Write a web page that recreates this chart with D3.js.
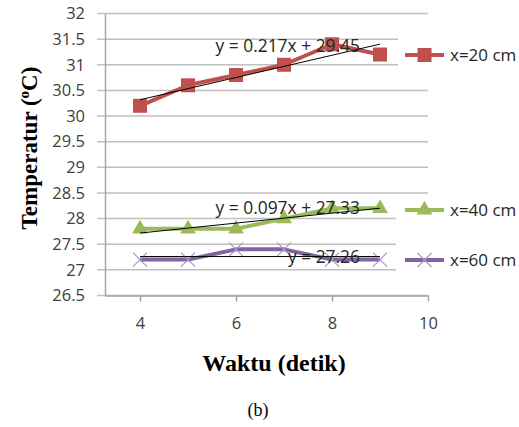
<!DOCTYPE html>
<html><head><meta charset="utf-8">
<script src="https://cdn.jsdelivr.net/npm/d3@7"></script>
<style>body{margin:0;background:#fff}svg{display:block}</style>
</head><body><svg id="c" width="519" height="427"></svg>
<script>
const time = [4,5,6,7,8,9];
const seriesNames = ["x=20 cm","x=40 cm","x=60 cm"];
const t20 = [30.2,30.6,30.8,31.0,31.4,31.2];
const t40 = [27.8,27.8,27.8,28.0,28.2,28.2];
const t60 = [27.2,27.2,27.4,27.4,27.2,27.2];
const slopes = [0.217,0.097,0];
const intercepts = [29.45,27.33,27.26];
const eqLabels = ["y = 0.217x + 29.45","y = 0.097x + 27.33","y = 27.26"];
const yTicks = [26.5,27,27.5,28,28.5,29,29.5,30,30.5,31,31.5,32];
const xTicks = [4,6,8,10];
const colors = ["#C0504D","#9BBB59","#8064A2"];

const svg = d3.select("#c");
const x = d3.scaleLinear().domain([3.27,10]).range([105,428]);
const y = d3.scaleLinear().domain([26.5,32]).range([295.5,13.5]);
const font = "'Open Sans', sans-serif";

svg.append("g").selectAll("line").data(yTicks).join("line")
  .attr("x1",97).attr("x2",428).attr("y1",d=>y(d)).attr("y2",d=>y(d))
  .attr("stroke","#bfbfbf").attr("stroke-width",1.5);

const ya = svg.append("g").attr("transform","translate(105,0)")
  .call(d3.axisLeft(y).tickValues(yTicks).tickSize(0).tickPadding(20).tickFormat(d3.format("")));
ya.select(".domain").attr("stroke","#a6a6a6").attr("stroke-width",1.5);
ya.selectAll("text").attr("font-family",font).attr("font-size",16.5).attr("fill","#404040");

const xa = svg.append("g").attr("transform","translate(0,295.5)")
  .call(d3.axisBottom(x).tickValues(xTicks).tickSize(6).tickSizeOuter(0).tickPadding(16).tickFormat(d3.format("d")));
xa.select(".domain").attr("stroke","#a6a6a6").attr("stroke-width",1.5);
xa.selectAll("line").attr("stroke","#a6a6a6").attr("stroke-width",1.5);
xa.selectAll("text").attr("font-family",font).attr("font-size",16.5).attr("fill","#404040");

svg.append("rect").attr("x",398).attr("y",30).attr("width",121).attr("height",46).attr("fill","#fff");
svg.append("rect").attr("x",396).attr("y",199).attr("width",123).attr("height",82).attr("fill","#fff");

const data = [t20,t40,t60];
const line = d3.line().x((d,i)=>x(time[i])).y(d=>y(d));

function marker(g, k, cx, cy){
  if(k===0){
    g.append("rect").attr("x",cx-7).attr("y",cy-7).attr("width",14).attr("height",14).attr("fill",colors[0]);
  } else if(k===1){
    g.append("path").attr("d",d3.symbol().type(d3.symbolTriangle).size(110)()).attr("transform",`translate(${cx},${cy})`).attr("fill",colors[1]);
  } else {
    g.append("path").attr("d",`M${cx-7},${cy-7}L${cx+7},${cy+7}M${cx-7},${cy+7}L${cx+7},${cy-7}`).attr("stroke","#a896cc").attr("stroke-width",1.2).attr("fill","none");
  }
}

data.forEach((vals,k)=>{
  svg.append("path").datum(vals).attr("d",line).attr("fill","none")
    .attr("stroke",colors[k]).attr("stroke-width",4).attr("stroke-linejoin","round");
  const g = svg.append("g");
  vals.forEach((v,i)=>marker(g,k,x(time[i]),y(v)));
});

slopes.forEach((m,k)=>{
  const x0 = time[0], x1 = time[time.length-1];
  svg.append("line").attr("x1",x(x0)).attr("x2",x(x1))
    .attr("y1",y(m*x0+intercepts[k])).attr("y2",y(m*x1+intercepts[k]))
    .attr("stroke","#000").attr("stroke-width",1);
});

const eqY = [52,214,263];
eqLabels.forEach((t,k)=>{
  svg.append("text").attr("x",360).attr("y",eqY[k]).attr("text-anchor","end")
    .attr("font-family",font).attr("font-size",17.4).attr("fill","#262626").text(t);
});

const legY = [55,210,260];
seriesNames.forEach((n,k)=>{
  const g = svg.append("g");
  g.append("line").attr("x1",405).attr("x2",444).attr("y1",legY[k]).attr("y2",legY[k]).attr("stroke",colors[k]).attr("stroke-width",4);
  marker(g,k,424.5,legY[k]);
  g.append("text").attr("x",450).attr("y",legY[k]+6).attr("font-family",font).attr("font-size",17).attr("fill","#262626").text(n);
});

const yt = svg.append("text").attr("transform","translate(37,148) rotate(-90)").attr("text-anchor","middle")
  .attr("font-family","'Liberation Serif', serif").attr("font-weight","bold").attr("font-size",23).attr("fill","#000");
yt.append("tspan").text("Temperatur (");
yt.append("tspan").attr("font-size",15).attr("dy",-8).text("o");
yt.append("tspan").attr("dy",8).text("C)");

svg.append("text").attr("x",274).attr("y",371).attr("text-anchor","middle")
  .attr("font-family","'Liberation Serif', serif").attr("font-weight","bold").attr("font-size",24).text("Waktu (detik)");
svg.append("text").attr("x",258).attr("y",416).attr("text-anchor","middle")
  .attr("font-family","'Liberation Serif', serif").attr("font-size",18).text("(b)");
</script></body></html>
